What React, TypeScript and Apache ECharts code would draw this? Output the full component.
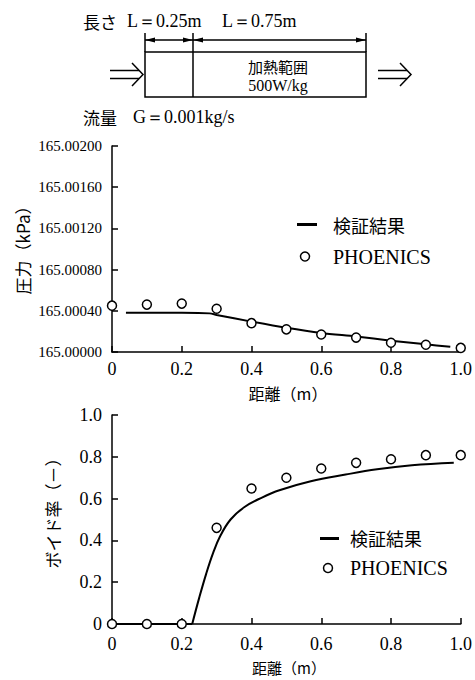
import React, { useEffect, useRef } from "react";
import * as echarts from "echarts";

// ---- data ----
const distanceTicks = [0, 0.2, 0.4, 0.6, 0.8, 1.0];

// Pressure chart (kPa)
const pressureSimX = [0.04, 0.1, 0.2, 0.28, 0.3, 0.4, 0.5, 0.6, 0.7, 0.8, 0.9, 0.97];
const pressureSimY = [165.00038, 165.00038, 165.00038, 165.000375, 165.00036, 165.000295, 165.000235, 165.000185, 165.00015, 165.00011, 165.000075, 165.00005];
const pressurePhxX = [0, 0.1, 0.2, 0.3, 0.4, 0.5, 0.6, 0.7, 0.8, 0.9, 1.0];
const pressurePhxY = [165.00045, 165.00046, 165.00047, 165.00042, 165.00028, 165.00022, 165.00017, 165.00014, 165.00009, 165.00007, 165.00004];
const pressureBase = 165.0;
const pressureTop = 165.002;
const pressureStep = 0.0004;

// Void fraction chart (-)
const voidFlatX = [0, 0.23];
const voidFlatY = [0, 0];
const voidRiseX = [0.23, 0.25, 0.27, 0.29, 0.31, 0.34, 0.38, 0.43, 0.48, 0.57, 0.67, 0.76, 0.86, 0.98];
const voidRiseY = [0, 0.125, 0.24, 0.34, 0.42, 0.5, 0.56, 0.605, 0.64, 0.683, 0.715, 0.74, 0.759, 0.771];
const voidPhxX = [0, 0.1, 0.2, 0.3, 0.4, 0.5, 0.6, 0.7, 0.8, 0.9, 1.0];
const voidPhxY = [0, 0, 0, 0.46, 0.648, 0.7, 0.744, 0.771, 0.788, 0.808, 0.808];

const simName = "検証結果";
const phxName = "PHOENICS";

const SERIF = "Liberation Serif";
const CJK = "Noto Sans CJK JP";

const toOffset = (p: number) => Math.round((p - pressureBase) * 1e5 * 1000) / 1000;

function txt(text: string, x: number, y: number, size: number, family: string, align = "left", extra: any = {}) {
  return {
    type: "text",
    x,
    y,
    silent: true,
    ...extra,
    style: {
      text,
      fill: "#000",
      fontSize: size,
      fontFamily: family,
      align,
      verticalAlign: "middle",
      textAlign: align,
      textVerticalAlign: "middle",
    },
  };
}

function ln(x1: number, y1: number, x2: number, y2: number, w = 1.5) {
  return { type: "line", silent: true, shape: { x1, y1, x2, y2 }, style: { stroke: "#000", lineWidth: w } };
}

function poly(points: number[][]) {
  return { type: "polygon", silent: true, shape: { points }, style: { fill: "#000" } };
}

function polyline(points: number[][], w = 1.5) {
  return { type: "polyline", silent: true, shape: { points }, style: { stroke: "#000", lineWidth: w, fill: "none" } };
}

function legendCircle(cx: number, cy: number) {
  return { type: "circle", silent: true, shape: { cx, cy, r: 4.5 }, style: { fill: "#fff", stroke: "#000", lineWidth: 1.5 } };
}

const axisLineStyle = { show: true, lineStyle: { color: "#000", width: 1.5 } };
const axisTickStyle = { show: true, inside: true, length: 6, lineStyle: { color: "#000", width: 1.5 } };
const circleStyle = { color: "#fff", borderColor: "#000", borderWidth: 1.5, opacity: 1 };

export default function App() {
  const ref = useRef<HTMLDivElement>(null);

  useEffect(() => {
    document.body.style.margin = "0";
    if (!ref.current) return;
    const chart = echarts.init(ref.current, undefined, { renderer: "svg" });

    const xFmt = (v: number) => (v === 0 ? "0" : v.toFixed(1));

    const graphic: any[] = [
      // top schematic
      txt("長さ", 83, 21, 17, CJK),
      txt("L＝0.25m", 127, 21, 18, SERIF),
      txt("L＝0.75m", 222, 21, 18, SERIF),
      ln(145, 33, 145, 52),
      ln(366, 33, 366, 52),
      ln(193, 33, 193, 97),
      ln(145, 40, 366, 40, 1.5),
      poly([[145, 40], [155, 37.5], [155, 42.5]]),
      poly([[193, 40], [183, 37.5], [183, 42.5]]),
      poly([[193, 40], [203, 37.5], [203, 42.5]]),
      poly([[366, 40], [356, 37.5], [356, 42.5]]),
      { type: "rect", silent: true, shape: { x: 145, y: 52, width: 221, height: 45 }, style: { fill: "none", stroke: "#000", lineWidth: 1.5 } },
      txt("加熱範囲", 278, 66, 15, CJK, "center"),
      txt("500W/kg", 278, 85.5, 16, SERIF, "center"),
      // inlet arrow
      ln(110, 70.5, 139, 70.5, 1.5),
      ln(110, 78.5, 139, 78.5, 1.5),
      polyline([[132, 63], [143, 74.5], [132, 86]], 1.5),
      // outlet arrow
      ln(378, 70.5, 407, 70.5, 1.5),
      ln(378, 78.5, 407, 78.5, 1.5),
      polyline([[400, 63], [411, 74.5], [400, 86]], 1.5),
      txt("流量", 83, 117, 17, CJK),
      txt("G＝0.001kg/s", 133, 117, 18, SERIF),

      // axis titles
      txt("圧力（kPa）", 22, 246, 17, CJK, "center", { rotation: Math.PI / 2 }),
      txt("距離（m）", 288, 393, 16, CJK, "center"),
      txt("ボイド率（－）", 52, 509, 17, CJK, "center", { rotation: Math.PI / 2 }),
      txt("距離（m）", 289, 667, 15, CJK, "center"),

      // legend top
      ln(297, 224.5, 317, 224.5, 3),
      txt(simName, 333, 225, 18, CJK),
      legendCircle(305, 256.5),
      txt(phxName, 333, 256.5, 20, SERIF),

      // legend bottom
      ln(320, 538.5, 339, 538.5, 3),
      txt(simName, 350, 538, 18, CJK),
      legendCircle(328, 568),
      txt(phxName, 350, 568, 20, SERIF),
    ];

    const option: any = {
      animation: false,
      backgroundColor: "#fff",
      grid: [
        { left: 112, top: 146, width: 351, height: 206 },
        { left: 112, top: 415, width: 351, height: 209 },
      ],
      xAxis: [0, 1].map((i) => ({
        type: "value",
        gridIndex: i,
        min: distanceTicks[0],
        max: distanceTicks[distanceTicks.length - 1],
        interval: 0.2,
        axisLine: axisLineStyle,
        axisTick: axisTickStyle,
        splitLine: { show: false },
        axisLabel: {
          color: "#000",
          fontSize: 18,
          fontFamily: SERIF,
          margin: i === 0 ? 8 : 11,
          formatter: xFmt,
        },
      })),
      yAxis: [
        {
          type: "value",
          gridIndex: 0,
          min: 0,
          max: toOffset(pressureTop),
          interval: toOffset(pressureBase + pressureStep),
          axisLine: axisLineStyle,
          axisTick: axisTickStyle,
          splitLine: { show: false },
          axisLabel: {
            color: "#000",
            fontSize: 15,
            fontFamily: SERIF,
            margin: 10,
            formatter: (v: number) => (pressureBase + v / 1e5).toFixed(5),
          },
        },
        {
          type: "value",
          gridIndex: 1,
          min: 0,
          max: 1,
          interval: 0.2,
          axisLine: axisLineStyle,
          axisTick: axisTickStyle,
          splitLine: { show: false },
          axisLabel: {
            color: "#000",
            fontSize: 18,
            fontFamily: SERIF,
            margin: 10,
            formatter: (v: number) => (v === 0 ? "0" : v.toFixed(1)),
          },
        },
      ],
      series: [
        {
          name: simName,
          type: "line",
          xAxisIndex: 0,
          yAxisIndex: 0,
          data: pressureSimX.map((x, i) => [x, toOffset(pressureSimY[i])]),
          showSymbol: false,
          smooth: 0.3,
          lineStyle: { color: "#000", width: 2 },
          z: 2,
        },
        {
          name: phxName,
          type: "scatter",
          xAxisIndex: 0,
          yAxisIndex: 0,
          data: pressurePhxX.map((x, i) => [x, toOffset(pressurePhxY[i])]),
          symbol: "circle",
          symbolSize: 9,
          itemStyle: circleStyle,
          z: 3,
        },
        {
          name: simName,
          type: "line",
          xAxisIndex: 1,
          yAxisIndex: 1,
          data: voidFlatX.map((x, i) => [x, voidFlatY[i]]),
          showSymbol: false,
          lineStyle: { color: "#000", width: 2 },
          z: 2,
        },
        {
          name: simName,
          type: "line",
          xAxisIndex: 1,
          yAxisIndex: 1,
          data: voidRiseX.map((x, i) => [x, voidRiseY[i]]),
          showSymbol: false,
          smooth: 0.4,
          lineStyle: { color: "#000", width: 2 },
          z: 2,
        },
        {
          name: phxName,
          type: "scatter",
          xAxisIndex: 1,
          yAxisIndex: 1,
          data: voidPhxX.map((x, i) => [x, voidPhxY[i]]),
          symbol: "circle",
          symbolSize: 9,
          itemStyle: circleStyle,
          z: 3,
        },
      ],
      graphic,
    };

    chart.setOption(option);
    return () => chart.dispose();
  }, []);

  return <div ref={ref} style={{ width: 475, height: 680 }} />;
}
